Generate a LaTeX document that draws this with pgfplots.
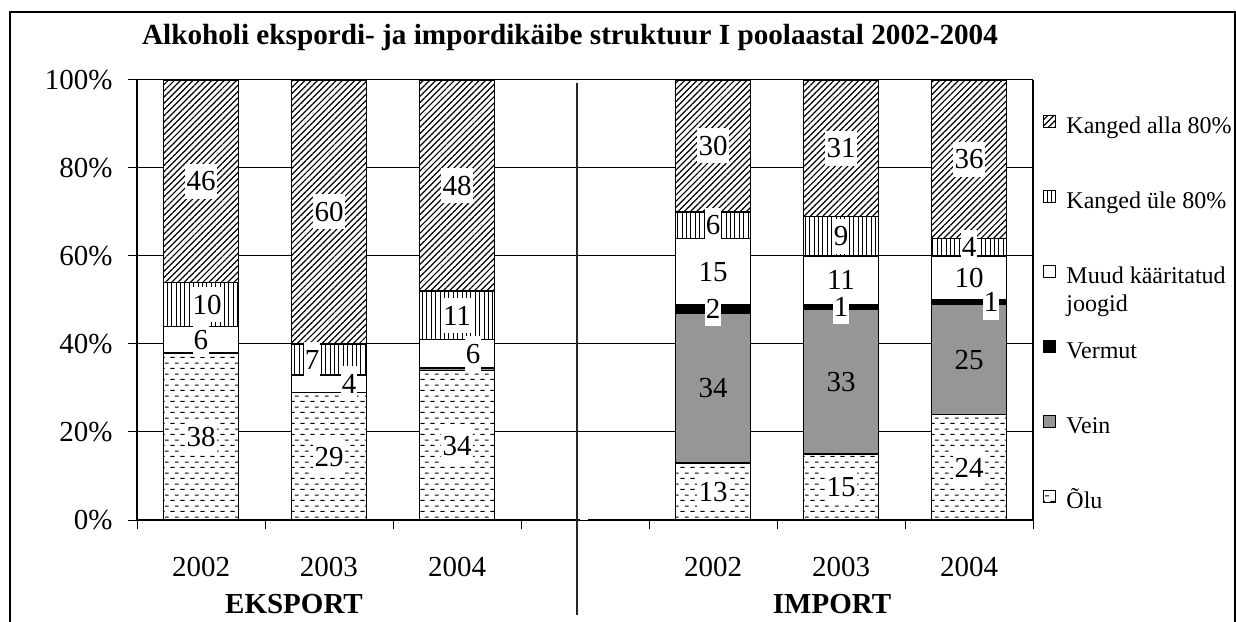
\documentclass[border=0pt]{standalone}
\usepackage{fontspec}
\setmainfont{Liberation Serif}
\usepackage{pgfplots}
\usepackage{pgfplotstable}
\pgfplotsset{compat=1.18}
\usetikzlibrary{patterns,patterns.meta}

\definecolor{veingray}{RGB}{150,150,150}

\tikzdeclarepattern{
  name=olu,
  type=uncolored,
  bounding box={(0bp,0bp) and (5bp,5.4bp)},
  tile size={(5bp,5.4bp)},
  code={
    \draw[line width=0.5bp] (0.2bp,1.35bp) -- (2.5bp,1.35bp) (2.7bp,4.05bp) -- (4.8bp,4.05bp);
  }
}

\newcommand\tkfont{\fontsize{14.5bp}{17bp}\selectfont}
\newcommand\lblfont{\fontsize{14.5bp}{17bp}\selectfont}
\newcommand\lgfont{\fontsize{12bp}{14bp}\selectfont}
\newcommand\bfont{\fontsize{14.5bp}{17bp}\selectfont\bfseries}
\newcommand\tfont{\fontsize{14.6bp}{17bp}\selectfont\bfseries}

\def\nolbl{-}
\newcommand\lblbox[1]{{\setlength{\fboxsep}{0pt}\colorbox{white}{\rule[-3.85bp]{0pt}{17.5bp}\hspace{0.6bp}#1\hspace{0.6bp}}}}
\newcommand\lblplain[1]{\rule[-3.85bp]{0pt}{17.5bp}#1}
\newcommand\mylbl{\edef\tmplbl{\pgfplotspointmeta}\ifx\tmplbl\nolbl\else\lblbox{\pgfplotspointmeta}\fi}
\newcommand\mylblplain{\edef\tmplbl{\pgfplotspointmeta}\ifx\tmplbl\nolbl\else\lblplain{\pgfplotspointmeta}\fi}

\pgfplotstableread{
x y lab
0 38 38
1 29 29
2 34 34
4 13 13
5 15 15
6 24 24
}\olu
\pgfplotstableread{
x y lab
0 0 -
1 0 -
2 0.6 -
4 34 34
5 33 33
6 25 25
}\vein
\pgfplotstableread{
x y lab
0 0 -
1 0 -
2 0 -
4 2 2
5 1 1
6 1 1
}\vermut
\pgfplotstableread{
x y lab
0 6 6
1 4 4
2 6.4 6
4 15 15
5 11 11
6 10 10
}\muud
\pgfplotstableread{
x y lab
0 10 10
1 7 7
2 11 11
4 6 6
5 9 9
6 4 4
}\yle
\pgfplotstableread{
x y lab
0 46 46
1 60 60
2 48 48
4 30 30
5 31 31
6 36 36
}\alla

\pgfplotsset{
  lbl/.style 2 args={
    point meta=explicit symbolic,
    nodes near coords={#1},
    visualization depends on={#2 \as \ldx},
    nodes near coords align=center,
    every node near coord/.append style={inner sep=0pt, anchor=center, font=\lblfont,
      xshift={\ldx*1bp}},
  },
}

\begin{document}
\begin{tikzpicture}
\useasboundingbox (0,0) rectangle (618bp,311bp);
\draw[line width=0.6bp] (5bp,-2bp) -- (5bp,305bp) -- (617.5bp,305bp) -- (617.5bp,-2bp);
\node[font=\tfont, anchor=base] at (571bp,288.5bp) [xshift=-286bp] {Alkoholi ekspordi- ja impordikäibe struktuur I poolaastal 2002-2004};
\node[font=\bfont, anchor=base] at (147bp,4.5bp) {EKSPORT};
\node[font=\bfont, anchor=base] at (416bp,4.5bp) {IMPORT};
\begin{axis}[
  at={(68.5bp,51bp)}, anchor=south west,
  scale only axis, width=448bp, height=220bp,
  ybar stacked, bar width=37.5bp,
  xmin=-0.5, xmax=6.5, ymin=0, ymax=100,
  enlargelimits=false,
  clip=false,
  xtick={0,1,2,4,5,6},
  xticklabels={2002,2003,2004,2002,2003,2004},
  minor xtick={-0.5,0.5,...,6.5},
  ytick={0,20,...,100},
  yticklabel={\pgfmathprintnumber{\tick}\%},
  ymajorgrids, grid style={black, line width=0.5bp},
  tick align=outside,
  xtick pos=bottom, ytick pos=left,
  major tick length=4.5bp, minor tick length=4.5bp,
  major x tick style={draw=none},
  minor x tick style={black, line width=0.5bp},
  major y tick style={black, line width=0.5bp},
  tick label style={font=\tkfont},
  /pgf/number format/assume math mode=true,
  xticklabel style={anchor=base, yshift=-23.5bp},
  yticklabel style={anchor=east, inner sep=0pt, xshift=-7.5bp},
  axis line style={line width=0.6bp},
  separate axis lines,
  every outer x axis line/.append style={draw=none},
  every axis plot/.append style={draw=black, line width=0.8bp},
  legend style={at={(1.0112,0.9205)}, anchor=north west, draw=none, fill=none,
    inner sep=0pt, row sep=25.2bp, font=\lgfont,
    nodes={inner sep=0pt, text height=9bp, text depth=3bp},
    /tikz/every odd column/.style={column sep=5bp}},
  legend cell align=left,
  reverse legend,
  legend image code/.code={\draw[#1, line width=0.5bp] (0bp,0bp) rectangle (6bp,6bp);},
]
\addplot[fill=white, postaction={pattern=olu}, lbl={\mylbl}{0}] table[x=x, y=y, meta=lab] {\olu};
\addlegendentry{Õlu}
\addplot[fill=veingray, lbl={\mylblplain}{0}] table[x=x, y=y, meta=lab] {\vein};
\addlegendentry{Vein}
\addplot[fill=black, lbl={\mylbl}{(rawx==6)*11}] table[x=x, y=y, meta=lab] {\vermut};
\addlegendentry{Vermut}
\addplot[fill=white, lbl={\mylbl}{(rawx==1)*10+(rawx==2)*8}] table[x=x, y=y, meta=lab] {\muud};
\addlegendentry{\begin{tabular}[t]{@{}l@{}}Muud kääritatud\\joogid\end{tabular}}
\addplot[fill=white, postaction={pattern={Lines[angle=90, distance=2.2bp, line width=0.5bp]}}, lbl={\mylbl}{(rawx==0)*3-(rawx==1)*8.5}] table[x=x, y=y, meta=lab] {\yle};
\addlegendentry{Kanged üle 80\%}
\addplot[fill=white, postaction={pattern={Lines[angle=45, distance=2.2bp, line width=0.6bp]}}, lbl={\mylbl}{0}] table[x=x, y=y, meta=lab] {\alla};
\addlegendentry{Kanged alla 80\%}
\draw[line width=1bp, black!85] (axis cs:2.9375,99.3) -- (axis cs:2.9375,-21.6);
\draw[line width=0.6bp] (axis cs:-0.5,0) -- (axis cs:2.96,0) (axis cs:3.02,0) -- (axis cs:6.5,0);
\end{axis}
\end{tikzpicture}
\end{document}
